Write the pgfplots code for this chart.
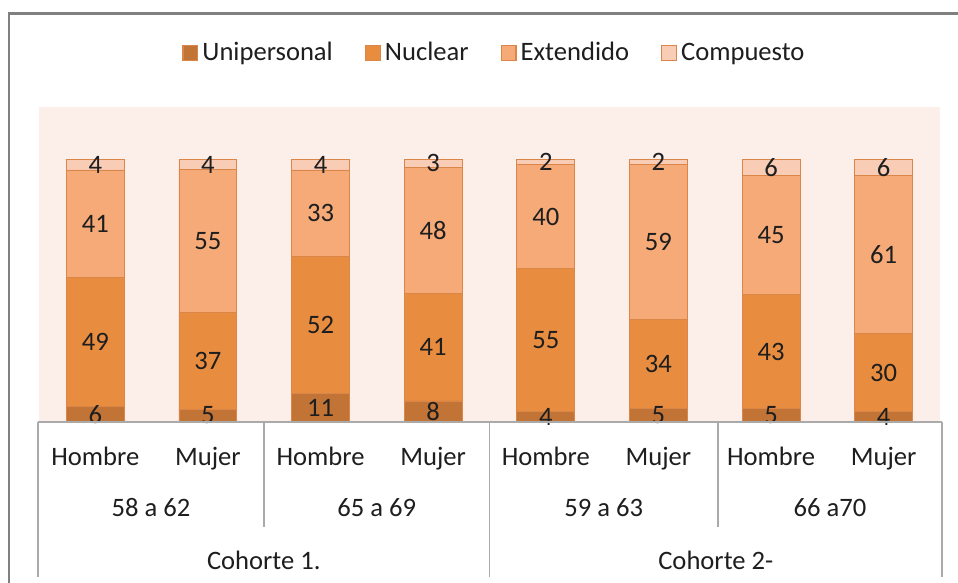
\documentclass[border=0pt]{standalone}
\usepackage{fontspec}
\setmainfont{Carlito}
\usepackage{pgfplots}
\usepackage{pgfplotstable}
\pgfplotsset{compat=1.18}

\definecolor{cUni}{RGB}{194,116,54}
\definecolor{cNuc}{RGB}{232,140,64}
\definecolor{cExt}{RGB}{246,170,120}
\definecolor{cCom}{RGB}{249,204,182}
\definecolor{cEdge}{RGB}{218,134,72}
\definecolor{bgpink}{RGB}{252,238,233}
\definecolor{frame}{RGB}{128,128,128}
\definecolor{catline}{RGB}{170,170,170}
\definecolor{txt}{RGB}{30,30,30}

\newcommand\lbl{\fontsize{13.3}{16}\selectfont}

% percentages per household type
\pgfplotstableread{
x U  N  E  C
0 6  49 41 4
1 5  37 55 4
2 11 52 33 4
3 8  41 48 3
4 4  55 40 2
5 5  34 59 2
6 5  43 45 6
7 4  30 61 6
}\data

\def\tot{(\thisrow{U}+\thisrow{N}+\thisrow{E}+\thisrow{C})}

\pgfplotsset{
  base/.style={
    scale only axis, width=450.5pt, height=157.5pt,
    at={(19.5pt,80.5pt)}, anchor=south west,
    xmin=-0.5, xmax=7.5, ymin=0, ymax=120,
    clip=false,
    /pgf/number format/assume math mode=true,
  },
  sq/.style={legend image code/.code={\draw[##1, line width=0.6pt] (-2.5pt,-3.6pt) rectangle (4.9pt,3.8pt);}},
}

\begin{document}
\begin{tikzpicture}
\begin{axis}[base,
  ybar stacked, bar width=0.514,
  axis background/.style={fill=bgpink},
  axis x line*=bottom, axis y line=none,
  axis line style={draw=none},
  xtick={0,...,7}, major tick length=0pt,
  xticklabels={Hombre,Mujer,Hombre,Mujer,Hombre,Mujer,Hombre,Mujer},
  xticklabel style={font=\lbl, text=txt, anchor=base, yshift=-22pt},
  ytick=\empty,
  legend style={draw=none, fill=none, legend columns=4, font=\lbl, text=txt,
    at={(0.5,1)}, anchor=center, yshift=27pt, xshift=3pt,
    /tikz/every even column/.append style={column sep=14pt}},
]
\addplot[fill=cUni, draw=cEdge, sq] table[x=x, y expr=100*\thisrow{U}/\tot] {\data};
\addlegendentry{Unipersonal}
\addplot[fill=cNuc, draw=cEdge, sq] table[x=x, y expr=100*\thisrow{N}/\tot] {\data};
\addlegendentry{Nuclear}
\addplot[fill=cExt, draw=cEdge, sq] table[x=x, y expr=100*\thisrow{E}/\tot] {\data};
\addlegendentry{Extendido}
\addplot[fill=cCom, draw=cEdge, sq] table[x=x, y expr=100*\thisrow{C}/\tot] {\data};
\addlegendentry{Compuesto}
\end{axis}

% value labels, centred in each segment
\begin{axis}[base, hide axis,
  nodes near coords,
  every node near coord/.append style={anchor=center, font=\lbl, text=txt},
]
\addplot[draw=none, mark=none, point meta=explicit]
  table[x=x, y expr=100*(\thisrow{U}/2)/\tot, meta=U] {\data};
\addplot[draw=none, mark=none, point meta=explicit]
  table[x=x, y expr=100*(\thisrow{U}+\thisrow{N}/2)/\tot, meta=N] {\data};
\addplot[draw=none, mark=none, point meta=explicit]
  table[x=x, y expr=100*(\thisrow{U}+\thisrow{N}+\thisrow{E}/2)/\tot, meta=E] {\data};
\addplot[draw=none, mark=none, point meta=explicit]
  table[x=x, y expr=100*(\thisrow{U}+\thisrow{N}+\thisrow{E}+\thisrow{C}/2)/\tot, meta=C] {\data};
\end{axis}

% category table below the bars
\draw[catline, line width=0.8pt] (19pt,80.5pt) -- (471pt,80.5pt);
\foreach \xx in {19,244.75,471} \draw[catline, line width=0.8pt] (\xx pt,80.5pt) -- (\xx pt,3pt);
\foreach \xx in {132,359} \draw[catline, line width=0.8pt] (\xx pt,80.5pt) -- (\xx pt,28pt);
\node[font=\lbl, text=txt] at (75.5pt,37.5pt) {58 a 62};
\node[font=\lbl, text=txt] at (188.4pt,37.5pt) {65 a 69};
\node[font=\lbl, text=txt] at (301.9pt,37.5pt) {59 a 63};
\node[font=\lbl, text=txt] at (415pt,37.5pt) {66 a70};
\node[font=\lbl, text=txt] at (131.9pt,11.5pt) {Cohorte 1.};
\node[font=\lbl, text=txt] at (357.9pt,11.5pt) {Cohorte 2-};

% outer frame (cut at the right and bottom)
\draw[frame, line width=1.1pt] (4.5pt,0pt) -- (4.5pt,284.75pt) -- (479pt,284.75pt);

\pgfresetboundingbox
\path[use as bounding box] (0pt,0pt) rectangle (479pt,291.5pt);
\end{tikzpicture}
\end{document}
